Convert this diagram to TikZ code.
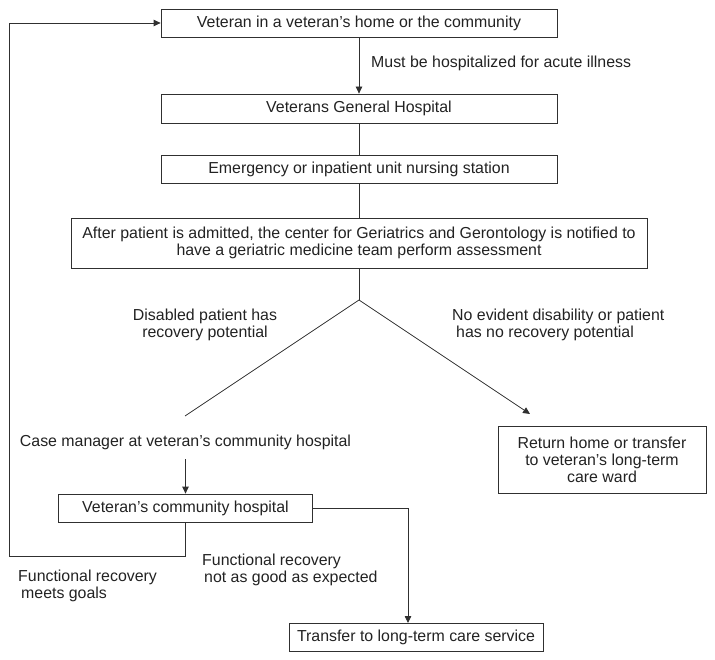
\documentclass[tikz,border=0pt]{standalone}
\usepackage{fontspec}
\setmainfont{Liberation Sans}
\usetikzlibrary{arrows.meta}
\definecolor{lc}{HTML}{303030}
\definecolor{tc}{HTML}{222222}
\begin{document}
\begin{tikzpicture}[x=1pt,y=-1pt,
  fnt/.style={font=\fontsize{15.9pt}{17pt}\selectfont},
  box/.style={draw=lc, line width=0.8pt, inner sep=0pt, text=tc, fnt, align=center},
  lbl/.style={text=tc, fnt, inner sep=0pt},
  conn/.style={draw=lc, line width=0.8pt},
  arr/.style={conn, -{Triangle[width=6.5pt,length=7pt]}}]
\useasboundingbox (0,0) rectangle (715,660);

\node[box, minimum width=396pt, minimum height=28pt] (b1) at (359,23) {Veteran in a veteran’s home or the community};
\node[box, minimum width=396pt, minimum height=29pt] (b2) at (359,108.5) {Veterans General Hospital};
\node[box, minimum width=396pt, minimum height=28pt] (b3) at (359,169) {Emergency or inpatient unit nursing station};
\node[box, minimum width=576pt, minimum height=50pt] (b4) at (359,243) {After patient is admitted, the center for Geriatrics and Gerontology is notified to\\have a geriatric medicine team perform assessment};
\node[box, minimum width=208pt, minimum height=67pt] (ret) at (602,459.5) {Return home or transfer\\to veteran’s long-term\\care ward};
\node[lbl] (cm) at (185.5,442) {Case manager at veteran’s community hospital};
\node[box, minimum width=254pt, minimum height=28pt] (cmh) at (185.5,508) {Veteran’s community hospital};
\node[box, minimum width=254pt, minimum height=28pt] (tr) at (416,637) {Transfer to long-term care service};

\node[lbl, anchor=west] (l1) at (371,63) {Must be hospitalized for acute illness};
\node[lbl, align=center] (l2) at (205,325) {Disabled patient has\\recovery potential};
\node[lbl, align=left, anchor=west] (l3) at (452,325) {No evident disability or patient\\\hspace{4pt}has no recovery potential};
\node[lbl, align=left, anchor=west] (l4) at (18,585.5) {Functional recovery\\\hspace{3pt}meets goals};
\node[lbl, align=left, anchor=west] (l5) at (202,570) {Functional recovery\\\hspace{2pt}not as good as expected};

\coordinate (apex) at (359,300);
\coordinate (ltip) at (185,416);
\coordinate (rtip) at (530,414);
\coordinate (cmout) at (185.5,459);
\coordinate (trin) at (408,623);
\coordinate (fb1) at (185.5,556);
\coordinate (fb2) at (9,556);
\coordinate (fb3) at (9,23);

\draw[arr] (b1) -- (b2);
\draw[conn] (b2) -- (b3);
\draw[conn] (b3) -- (b4);
\draw[conn] (b4) -- (apex);
\draw[conn] (apex) -- (ltip);
\draw[arr] (apex) -- (rtip);
\draw[arr] (cmout) -- (cmh);
\draw[arr] (cmh.east) -| (trin);
\draw[arr] (cmh.south) -- (fb1) -- (fb2) -- (fb3) -- (b1.west);
\end{tikzpicture}
\end{document}
